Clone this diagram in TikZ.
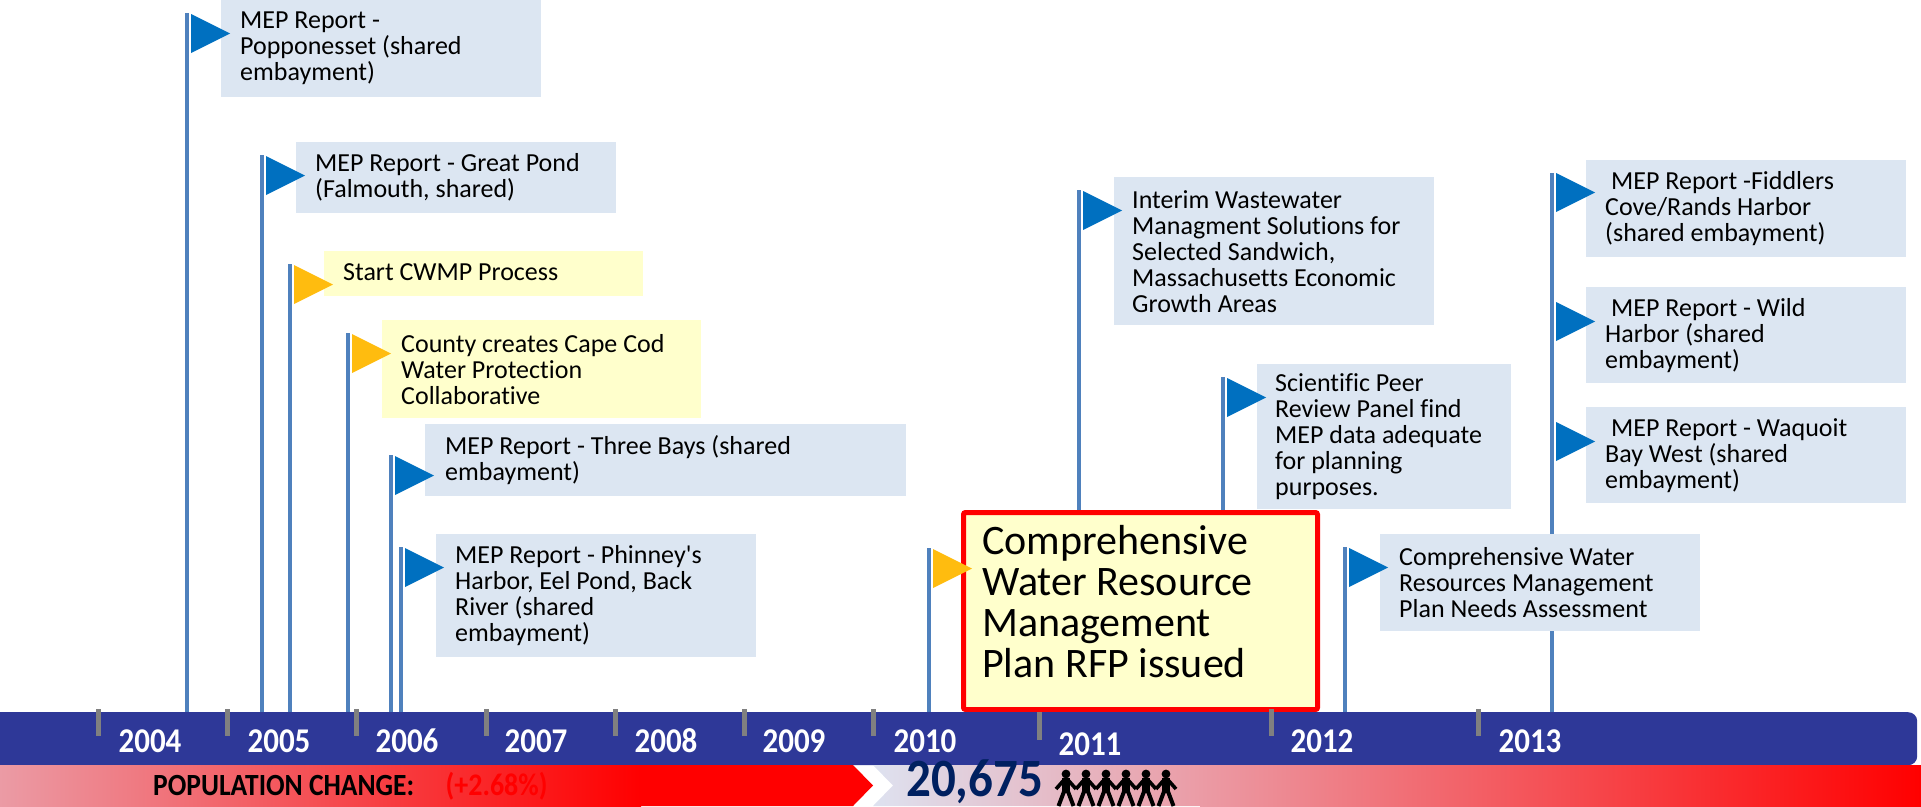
\documentclass[tikz,border=0pt]{standalone}
\usepackage{fontspec}
\setmainfont{Carlito}[Ligatures=NoCommon]
\usepackage{graphicx}
\usetikzlibrary{positioning}
\definecolor{boxblue}{RGB}{220,230,242}
\definecolor{boxyellow}{RGB}{255,255,204}
\definecolor{flagblue}{RGB}{0,112,192}
\definecolor{flagyellow}{RGB}{255,188,15}
\definecolor{polecol}{RGB}{79,129,189}
\definecolor{barblue}{RGB}{46,56,152}
\definecolor{tickgray}{RGB}{128,128,128}
\definecolor{poppink}{RGB}{235,155,165}
\definecolor{poplav}{RGB}{222,226,240}
\definecolor{popnavy}{RGB}{0,32,96}
\newcommand{\evfont}{\fontsize{26}{26}\selectfont}
\newcommand{\rfpfont}{\fontsize{42}{41}\selectfont}
% one little paper doll, #1 = centre x
\newcommand{\paperdoll}[1]{%
  \fill (#1,774) circle[radius=4.4pt];
  \fill ({#1-3.6},778) rectangle ({#1+3.6},793);
  \draw[line width=3.6pt, line join=round] ({#1-10},789) -- ({#1-2.5},780.5) -- ({#1+2.5},780.5) -- ({#1+10},789);
  \draw[line width=4pt, line join=round] ({#1-7.5},806) -- ({#1-1.8},791) -- ({#1+1.8},791) -- ({#1+7.5},806);
}

\begin{document}
\begin{tikzpicture}[x=1pt, y=-1pt,
    evbox/.style={fill=boxblue, inner sep=0pt, anchor=north west},
    evyel/.style={fill=boxyellow, inner sep=0pt, anchor=north west},
    evtext/.style={align=left, inner sep=0pt, font=\evfont},
    pole/.style={draw=polecol, line width=4pt},
    tick/.style={draw=tickgray, line width=5pt},
    yearlbl/.style={text=white, inner sep=0pt, font=\fontsize{31}{31}\selectfont\bfseries},
    poplbl/.style={inner sep=0pt, anchor=west, font=\fontsize{27.5}{27.5}\selectfont\bfseries}]
      \useasboundingbox (0,0) rectangle (1921,806);
      \coordinate (bartop) at (0,712);

      % flag poles
      \coordinate (p1) at (187,13);
      \coordinate (p2) at (262,155);
      \coordinate (p3) at (290,264);
      \coordinate (p4) at (348,333);
      \coordinate (p5) at (391,455);
      \coordinate (p6) at (401,547);
      \coordinate (p7) at (929,548);
      \coordinate (p8) at (1079,190);
      \coordinate (p9) at (1223,377);
      \coordinate (p10) at (1345,547);
      \coordinate (p11) at (1552,173);
      \draw[pole] (p1) -- (p1 |- bartop);
      \draw[pole] (p2) -- (p2 |- bartop);
      \draw[pole] (p3) -- (p3 |- bartop);
      \draw[pole] (p4) -- (p4 |- bartop);
      \draw[pole] (p5) -- (p5 |- bartop);
      \draw[pole] (p6) -- (p6 |- bartop);
      \draw[pole] (p7) -- (p7 |- bartop);
      \draw[pole] (p8) -- (p8 |- bartop);
      \draw[pole] (p9) -- (p9 |- bartop);
      \draw[pole] (p10) -- (p10 |- bartop);
      \draw[pole] (p11) -- (p11 |- bartop);

      % event boxes
      \node[evbox, minimum width=320pt, minimum height=97pt] (PO) at (221,0) {};
      \node[evtext, right=19pt of PO.west] (POt) {MEP Report -\\Popponesset (shared\\embayment)};
      \node[evbox, minimum width=320pt, minimum height=71pt] (GP) at (296,142) {};
      \node[evtext, right=19pt of GP.west] (GPt) {MEP Report - Great Pond\\(Falmouth, shared)};
      \node[evyel, minimum width=319pt, minimum height=45pt] (CW) at (324,251) {};
      \node[evtext, right=19pt of CW.west, yshift=2pt] (CWt) {Start CWMP Process};
      \node[evyel, minimum width=319pt, minimum height=98pt] (CC) at (382,320) {};
      \node[evtext, right=19pt of CC.west] (CCt) {County creates Cape Cod\\Water Protection\\Collaborative};
      \node[evbox, minimum width=481pt, minimum height=72pt] (TB) at (425,424) {};
      \node[evtext, right=20pt of TB.west] (TBt) {MEP Report - Three Bays (shared\\embayment)};
      \node[evbox, minimum width=320pt, minimum height=123pt] (PH) at (436,534) {};
      \node[evtext, right=19pt of PH.west] (PHt) {MEP Report - Phinney\textquotesingle s\\Harbor, Eel Pond, Back\\River (shared\\embayment)};
      \node[evbox, minimum width=320pt, minimum height=148pt] (IW) at (1114,177) {};
      \node[evtext, right=18pt of IW.west] (IWt) {Interim Wastewater\\Managment Solutions for\\Selected Sandwich,\\Massachusetts Economic\\Growth Areas};
      \node[evbox, minimum width=254pt, minimum height=145pt] (SP) at (1257,364) {};
      \node[evtext, right=18pt of SP.west] (SPt) {Scientific Peer\\Review Panel find\\MEP data adequate\\for planning\\purposes.};
      \node[evbox, minimum width=320pt, minimum height=97pt] (NA) at (1380,534) {};
      \node[evtext, right=19pt of NA.west] (NAt) {Comprehensive Water\\Resources Management\\Plan Needs Assessment};
      \node[evbox, minimum width=320pt, minimum height=97pt] (FC) at (1586,160) {};
      \node[evtext, right=19pt of FC.west] (FCt) {\hspace*{6pt}MEP Report -Fiddlers\\Cove/Rands Harbor\\(shared embayment)};
      \node[evbox, minimum width=320pt, minimum height=96pt] (WH) at (1586,287) {};
      \node[evtext, right=19pt of WH.west] (WHt) {\hspace*{6pt}MEP Report - Wild\\Harbor (shared\\embayment)};
      \node[evbox, minimum width=320pt, minimum height=96pt] (WB) at (1586,407) {};
      \node[evtext, right=19pt of WB.west] (WBt) {\hspace*{6pt}MEP Report - Waquoit\\Bay West (shared\\embayment)};
      \node[evyel, draw=red, line width=5pt, rounded corners=2pt, minimum width=354pt, minimum height=197pt] (RFP) at (961,510) {};
      \node[evtext, font=\rfpfont, right=21pt of RFP.west, yshift=9pt] (RFPt) {Comprehensive\\Water Resource\\Management\\Plan RFP issued};

      % flags
      \fill[flagblue] ([shift={(4,1)}]p1) -- ++(39,19.5) -- ++(-39,19.5) -- cycle;
      \fill[flagblue] ([shift={(4,1)}]p2) -- ++(39,19.5) -- ++(-39,19.5) -- cycle;
      \fill[flagyellow] ([shift={(4,1)}]p3) -- ++(39,19.5) -- ++(-39,19.5) -- cycle;
      \fill[flagyellow] ([shift={(4,1)}]p4) -- ++(39,19.5) -- ++(-39,19.5) -- cycle;
      \fill[flagblue] ([shift={(4,1)}]p5) -- ++(39,19.5) -- ++(-39,19.5) -- cycle;
      \fill[flagblue] ([shift={(4,1)}]p6) -- ++(39,19.5) -- ++(-39,19.5) -- cycle;
      \fill[flagyellow] ([shift={(4,1)}]p7) -- ++(39,19.5) -- ++(-39,19.5) -- cycle;
      \fill[flagblue] ([shift={(4,1)}]p8) -- ++(39,19.5) -- ++(-39,19.5) -- cycle;
      \fill[flagblue] ([shift={(4,1)}]p9) -- ++(39,19.5) -- ++(-39,19.5) -- cycle;
      \fill[flagblue] ([shift={(4,1)}]p10) -- ++(39,19.5) -- ++(-39,19.5) -- cycle;
      \fill[flagblue] ([shift={(4,0)}]p11) -- ++(39,19.5) -- ++(-39,19.5) -- cycle;
      \fill[flagblue] ([shift={(4,129)}]p11) -- ++(39,19.5) -- ++(-39,19.5) -- cycle;
      \fill[flagblue] ([shift={(4,249)}]p11) -- ++(39,19.5) -- ++(-39,19.5) -- cycle;

      % time bar
      \node[fill=barblue, inner sep=0pt, rounded corners=9pt, minimum width=1937pt, minimum height=53pt, anchor=north west] (bar) at (-20,712) {};
      \draw[tick] (98,709) -- (98,736) (227,709) -- (227,736) (356,709) -- (356,736)
        (486,709) -- (486,736) (615,709) -- (615,736) (744,709) -- (744,736)
        (873,709) -- (873,736) (1039,712) -- (1039,740) (1271,709) -- (1271,736)
        (1478,709) -- (1478,736);
      \node[yearlbl] (Y04) at (150,741) {\scalebox{1}[1.12]{2004}};
      \node[yearlbl] (Y05) at (279,741) {\scalebox{1}[1.12]{2005}};
      \node[yearlbl] (Y06) at (407,741) {\scalebox{1}[1.12]{2006}};
      \node[yearlbl] (Y07) at (536,741) {\scalebox{1}[1.12]{2007}};
      \node[yearlbl] (Y08) at (666,741) {\scalebox{1}[1.12]{2008}};
      \node[yearlbl] (Y09) at (794,741) {\scalebox{1}[1.12]{2009}};
      \node[yearlbl] (Y10) at (925,741) {\scalebox{1}[1.12]{2010}};
      \node[yearlbl] (Y11) at (1090,744) {\scalebox{1}[1.12]{2011}};
      \node[yearlbl] (Y12) at (1322,741) {\scalebox{1}[1.12]{2012}};
      \node[yearlbl] (Y13) at (1530,741) {\scalebox{1}[1.12]{2013}};

      % population band
      \shade[left color=poppink, right color=red] (0,765) rectangle (641,806);
      \fill[red] (640,765) -- (853,765) -- (873,785.5) -- (853,806) -- (640,806) -- cycle;
      \shade[left color=poplav, right color=poppink] (873,765) -- (1201,765) -- (1201,806) -- (873,806) -- (893,785.5) -- cycle;
      \shade[left color=poppink, right color=red] (1200,765) rectangle (1921,806);
      \node[poplbl] (PC) at (153,786) {\scalebox{1}[1.12]{POPULATION CHANGE:}};
      \node[poplbl, text=red, font=\fontsize{28}{28}\selectfont\bfseries, right=31pt of PC.east] (PCv) {\scalebox{1}[1.12]{(+2.68\%)}};
      \node[poplbl, text=popnavy, font=\fontsize{49}{49}\selectfont\bfseries] (PN) at (906,782) {\scalebox{1}[1.1]{20,675}};
      \paperdoll{1066}
      \paperdoll{1086}
      \paperdoll{1106}
      \paperdoll{1126}
      \paperdoll{1146}
      \paperdoll{1166}
    \end{tikzpicture}
\end{document}
